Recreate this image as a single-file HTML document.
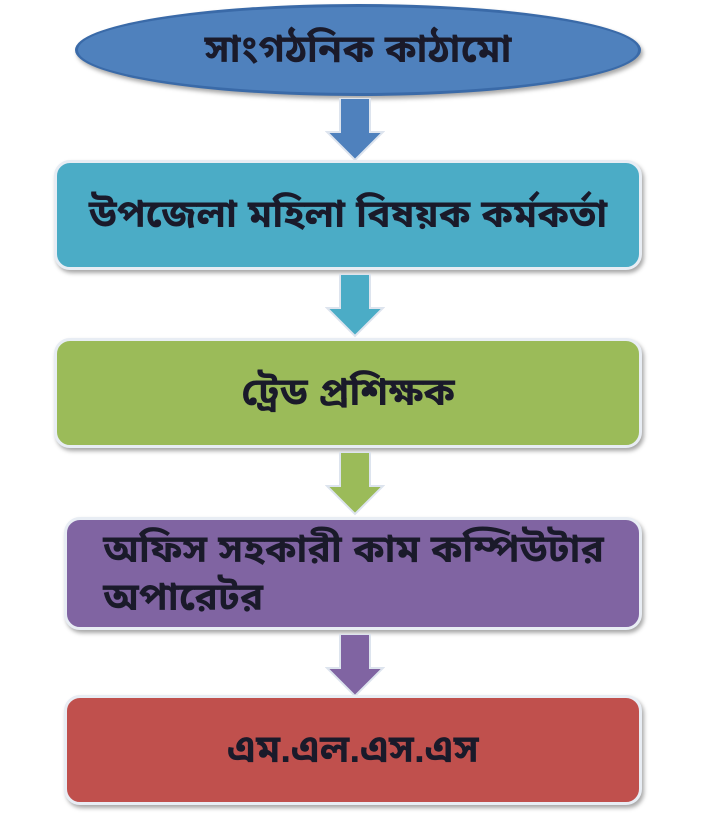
<!DOCTYPE html>
<html><head><meta charset="utf-8"><style>
html,body{margin:0;padding:0;background:#fff;}
body{width:709px;height:827px;position:relative;overflow:hidden;font-family:"Liberation Sans","Noto Sans Bengali","DejaVu Sans",sans-serif;}
.s{position:absolute;display:flex;align-items:center;justify-content:center;text-align:center;color:#1a1a2a;font-size:39px;font-weight:bold;line-height:48px;box-sizing:border-box;border:3px solid #e8edf4;box-shadow:2px 3px 4px rgba(0,0,0,.35);}
.b{border-radius:16px;}
svg{position:absolute;}
</style></head><body>
<div class="s" style="left:75px;top:4px;width:566px;height:92px;border-radius:50%;background:#4f81bd;border-color:#3a6aa8;">সাংগঠনিক কাঠামো</div>
<svg style="left:325px;top:98px" width="60" height="64"><polygon points="15,0 45,0 45,34 58,34 30,62 2,34 15,34" fill="#4f81bd" stroke="#dde4ee" stroke-width="2"/></svg>
<div class="s b" style="left:54px;top:160px;width:588px;height:110px;background:#4bacc6;">উপজেলা মহিলা বিষয়ক কর্মকর্তা</div>
<svg style="left:325px;top:274px" width="60" height="64"><polygon points="15,0 45,0 45,34 58,34 30,62 2,34 15,34" fill="#4bacc6" stroke="#dde4ee" stroke-width="2"/></svg>
<div class="s b" style="left:54px;top:338px;width:588px;height:110px;background:#9bbb59;">ট্রেড প্রশিক্ষক</div>
<svg style="left:325px;top:452px" width="60" height="64"><polygon points="15,0 45,0 45,34 58,34 30,62 2,34 15,34" fill="#9bbb59" stroke="#dde4ee" stroke-width="2"/></svg>
<div class="s b" style="left:64px;top:517px;width:578px;height:113px;background:#8064a2;padding:0 20px 0 36px;justify-content:flex-start;text-align:left;">অফিস সহকারী কাম কম্পিউটার অপারেটর</div>
<svg style="left:325px;top:634px" width="60" height="64"><polygon points="15,0 45,0 45,34 58,34 30,62 2,34 15,34" fill="#8064a2" stroke="#dde4ee" stroke-width="2"/></svg>
<div class="s b" style="left:64px;top:695px;width:578px;height:110px;background:#c0504d;">এম.এল.এস.এস</div>
</body></html>
